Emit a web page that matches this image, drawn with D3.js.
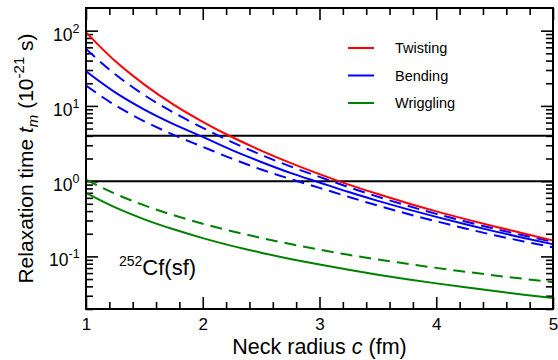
<!DOCTYPE html>
<html>
<head>
<meta charset="utf-8">
<script src="https://cdn.jsdelivr.net/npm/d3@7"></script>
<style>
  body { margin: 0; background: #fff; }
  svg { font-family: "Liberation Sans", Arial, Helvetica, sans-serif; }
  .axis path { display: none; }
  .axis line { stroke: #000; stroke-width: 1.6; }
  .axis text { font-size: 17px; fill: #000; }
</style>
</head>
<body>
<script>
// neck radius c (fm)
var neck = [1, 1.25, 1.5, 1.75, 2, 2.25, 2.5, 2.75, 3, 3.25, 3.5, 3.75, 4, 4.25, 4.5, 4.75, 5];

// relaxation times (10^-21 s)
var twisting      = [95, 39.4, 19.2, 10.4, 6.15, 3.86, 2.55, 1.75, 1.24, 0.90, 0.674, 0.513, 0.397, 0.313, 0.250, 0.202, 0.163];
var bendingSolid  = [28.8, 15.1, 8.93, 5.72, 3.87, 2.58, 1.80, 1.29, 0.96, 0.716, 0.547, 0.425, 0.335, 0.267, 0.215, 0.176, 0.145];
var bendingUpper  = [57, 26.3, 13.9, 8.16, 5.11, 3.31, 2.24, 1.57, 1.14, 0.831, 0.621, 0.473, 0.367, 0.291, 0.233, 0.190, 0.156];
var bendingLower  = [18.6, 10.2, 6.24, 4.12, 2.86, 1.99, 1.43, 1.07, 0.814, 0.618, 0.473, 0.369, 0.293, 0.235, 0.191, 0.158, 0.132];
var wrigglingSolid = [0.70, 0.448, 0.311, 0.229, 0.175, 0.138, 0.112, 0.0926, 0.0778, 0.0663, 0.0571, 0.0498, 0.0438, 0.0388, 0.0346, 0.0310, 0.0280];
var wrigglingDash  = [1.05, 0.680, 0.476, 0.353, 0.272, 0.216, 0.176, 0.146, 0.123, 0.105, 0.091, 0.080, 0.0704, 0.0625, 0.0559, 0.0503, 0.0455];

var refLevels = [1, 4];

var xMajor = [1, 2, 3, 4, 5];
var xMinor = [1.2, 1.4, 1.6, 1.8, 2.2, 2.4, 2.6, 2.8, 3.2, 3.4, 3.6, 3.8, 4.2, 4.4, 4.6, 4.8];
var yMajor = [0.1, 1, 10, 100];
var yExp = ["-1", "0", "1", "2"];
var yMinor = [0.02, 0.03, 0.04, 0.05, 0.06, 0.07, 0.08, 0.09,
              0.2, 0.3, 0.4, 0.5, 0.6, 0.7, 0.8, 0.9,
              2, 3, 4, 5, 6, 7, 8, 9,
              20, 30, 40, 50, 60, 70, 80, 90];

var legendNames = ["Twisting", "Bending", "Wriggling"];
var legendColors = ["#ff0000", "#0000ff", "#008000"];

var W = 558, H = 360;
var margin = {top: 8, right: 5, bottom: 51, left: 86};

var x = d3.scaleLinear().domain([1, 5]).range([margin.left, W - margin.right]);
var y = d3.scaleLog().domain([0.02, 200]).range([H - margin.bottom, margin.top]);

var svg = d3.select("body").append("svg")
    .attr("width", W)
    .attr("height", H);

svg.append("clipPath").attr("id", "plot")
  .append("rect")
    .attr("x", x(1)).attr("y", y(200))
    .attr("width", x(5) - x(1)).attr("height", y(0.02) - y(200));

// ticks, inward on all four sides
var majorLen = 12, minorLen = 7;

svg.append("g").attr("class", "axis")
    .attr("transform", "translate(0," + y(0.02) + ")")
    .call(d3.axisBottom(x).tickValues(xMajor).tickSize(-majorLen).tickPadding(9).tickFormat(d3.format("d")));
svg.append("g").attr("class", "axis")
    .attr("transform", "translate(0," + y(0.02) + ")")
    .call(d3.axisBottom(x).tickValues(xMinor).tickSize(-minorLen).tickFormat(""));
svg.append("g").attr("class", "axis")
    .attr("transform", "translate(0," + y(200) + ")")
    .call(d3.axisTop(x).tickValues(xMajor).tickSize(-majorLen).tickFormat(""));
svg.append("g").attr("class", "axis")
    .attr("transform", "translate(0," + y(200) + ")")
    .call(d3.axisTop(x).tickValues(xMinor).tickSize(-minorLen).tickFormat(""));

svg.append("g").attr("class", "axis")
    .attr("transform", "translate(" + x(1) + ",0)")
    .call(d3.axisLeft(y).tickValues(yMajor).tickSize(-majorLen).tickFormat(""));
svg.append("g").attr("class", "axis")
    .attr("transform", "translate(" + x(1) + ",0)")
    .call(d3.axisLeft(y).tickValues(yMinor).tickSize(-minorLen).tickFormat(""));
svg.append("g").attr("class", "axis")
    .attr("transform", "translate(" + x(5) + ",0)")
    .call(d3.axisRight(y).tickValues(yMajor).tickSize(-majorLen).tickFormat(""));
svg.append("g").attr("class", "axis")
    .attr("transform", "translate(" + x(5) + ",0)")
    .call(d3.axisRight(y).tickValues(yMinor).tickSize(-minorLen).tickFormat(""));

// y tick labels 10^n
var yl = svg.append("g").selectAll("text")
    .data(yMajor)
    .enter()
    .append("text")
    .attr("y", function(d) { return y(d) + 10; })
    .style("font-size", "17.5px");
yl.append("tspan")
    .attr("x", function(d, i) { return x(1) - (yExp[i].length > 1 ? 37 : 33); })
    .text("10");
yl.append("tspan")
    .attr("dy", -8)
    .style("font-size", "12.5px")
    .text(function(d, i) { return yExp[i]; });

// reference levels
svg.selectAll(".ref")
    .data(refLevels)
    .enter()
    .append("line")
    .attr("class", "ref")
    .attr("x1", x(1)).attr("x2", x(5))
    .attr("y1", function(d) { return y(d); })
    .attr("y2", function(d) { return y(d); })
    .attr("stroke", "#000")
    .attr("stroke-width", 2);

// curves
var series = [
  {v: wrigglingSolid, color: "#008000", dash: null},
  {v: wrigglingDash,  color: "#008000", dash: "12,7"},
  {v: bendingLower,   color: "#0000ff", dash: "12,7"},
  {v: bendingUpper,   color: "#0000ff", dash: "12,7"},
  {v: bendingSolid,   color: "#0000ff", dash: null},
  {v: twisting,       color: "#ff0000", dash: null}
];

var line = d3.line()
    .x(function(d, i) { return x(neck[i]); })
    .y(function(d) { return y(d); })
    .curve(d3.curveMonotoneX);

svg.append("g").attr("clip-path", "url(#plot)")
  .selectAll("path")
    .data(series)
    .enter()
    .append("path")
    .attr("d", function(d) { return line(d.v); })
    .attr("fill", "none")
    .attr("stroke", function(d) { return d.color; })
    .attr("stroke-width", 2)
    .attr("stroke-dasharray", function(d) { return d.dash; });

// frame
svg.append("rect")
    .attr("x", x(1)).attr("y", y(200))
    .attr("width", x(5) - x(1)).attr("height", y(0.02) - y(200))
    .attr("fill", "none")
    .attr("stroke", "#000")
    .attr("stroke-width", 2);

// legend
var legend = svg.selectAll(".legend")
    .data(legendNames)
    .enter()
    .append("g")
    .attr("class", "legend")
    .attr("transform", function(d, i) { return "translate(348," + (48 + i * 27.5) + ")"; });
legend.append("line")
    .attr("x1", 0).attr("x2", 26)
    .attr("stroke", function(d, i) { return legendColors[i]; })
    .attr("stroke-width", 2);
legend.append("text")
    .attr("x", 47)
    .attr("y", 5)
    .style("font-size", "14.5px")
    .text(function(d) { return d; });

// nucleus label
var nuc = svg.append("text")
    .attr("x", 119)
    .attr("y", 275)
    .style("font-size", "22px");
nuc.append("tspan").attr("dy", -9).style("font-size", "14px").text("252");
nuc.append("tspan").attr("dy", 9).text("Cf(sf)");

// axis titles
var xt = svg.append("text")
    .attr("x", (x(1) + x(5)) / 2)
    .attr("y", 354)
    .attr("text-anchor", "middle")
    .style("font-size", "21.5px");
xt.append("tspan").text("Neck radius ");
xt.append("tspan").style("font-style", "italic").text("c");
xt.append("tspan").text(" (fm)");

var yt = svg.append("text")
    .attr("transform", "translate(33," + ((y(200) + y(0.02)) / 2) + ") rotate(-90)")
    .attr("text-anchor", "middle")
    .style("font-size", "21px");
yt.append("tspan").text("Relaxation time ");
yt.append("tspan").style("font-style", "italic").text("t");
yt.append("tspan").attr("dy", 5).style("font-size", "15px").style("font-style", "italic").text("m");
yt.append("tspan").attr("dy", -5).text(" (10");
yt.append("tspan").attr("dy", -9).style("font-size", "15px").text("-21");
yt.append("tspan").attr("dy", 9).text(" s)");
</script>
</body>
</html>
